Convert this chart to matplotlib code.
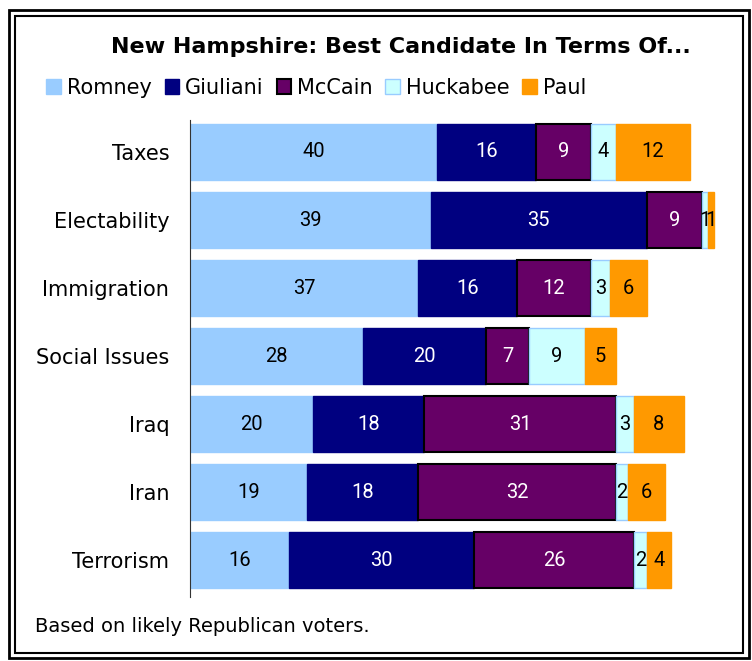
import matplotlib

matplotlib.use("Agg")
import matplotlib.pyplot as plt
from matplotlib.patches import Rectangle

categorias = ["Taxes", "Electability", "Immigration", "Social Issues", "Iraq", "Iran", "Terrorism"]
candidatos = ["Romney", "Giuliani", "McCain", "Huckabee", "Paul"]
romney = [40, 39, 37, 28, 20, 19, 16]
giuliani = [16, 35, 16, 20, 18, 18, 30]
mccain = [9, 9, 12, 7, 31, 32, 26]
huckabee = [4, 1, 3, 9, 3, 2, 2]
paul = [12, 1, 6, 5, 8, 6, 4]

series = [romney, giuliani, mccain, huckabee, paul]
cores = ["#99CCFF", "#000080", "#660066", "#CCFFFF", "#FF9900"]
bordas = ["#99CCFF", "#000080", "#000000", "#99CCFF", "#FF9900"]
cor_texto = ["black", "white", "white", "black", "black"]

plt.rcParams["font.family"] = ["DejaVu Sans"]

W, H = 752, 661
fig = plt.figure(figsize=(W / 100, H / 100), dpi=100)

# moldura dupla
fig.patches.append(Rectangle((9 / W, 3 / H), 740 / W, 648 / H, transform=fig.transFigure,
                             fill=False, lw=2, ec="black"))
fig.patches.append(Rectangle((15 / W, 8 / H), 728 / W, 637 / H, transform=fig.transFigure,
                             fill=False, lw=1.5, ec="black"))

x0, y_top, y_bot = 190, 120, 597
escala = 6.17
xmax = 88
ax = fig.add_axes([x0 / W, 1 - y_bot / H, xmax * escala / W, (y_bot - y_top) / H])

ypos = list(range(len(categorias)))
esquerda = [0] * len(categorias)
for i, vals in enumerate(series):
    lw = 1.5 if i == 2 else 1.0
    ax.barh(ypos, vals, left=esquerda, height=0.82, color=cores[i], edgecolor=bordas[i],
            linewidth=lw, label=candidatos[i])
    for j, v in enumerate(vals):
        ax.text(esquerda[j] + v / 2, ypos[j], str(v), ha="center", va="center",
                color=cor_texto[i], fontsize=14.5, family=["Roboto", "DejaVu Sans"])
    esquerda = [a + b for a, b in zip(esquerda, vals)]

ax.set_xlim(0, xmax)
ax.set_ylim(6.54, -0.47)
ax.set_yticks(ypos)
ax.set_yticklabels(categorias, fontsize=15)
ax.tick_params(axis="y", length=0, pad=15)
ax.set_xticks([])
for lado in ["top", "right", "bottom"]:
    ax.spines[lado].set_visible(False)
ax.spines["left"].set_color("#333333")

fig.text(401 / W, 1 - 47 / H, "New Hampshire: Best Candidate In Terms Of...", ha="center",
         va="center", fontsize=16, fontweight="bold")

handles, labels = ax.get_legend_handles_labels()
fig.legend(handles, labels, loc="center left", bbox_to_anchor=(38 / W, 1 - 88 / H), ncol=5,
           frameon=False, fontsize=15, handlelength=0.7, handleheight=0.7, handletextpad=0.3,
           columnspacing=0.6, borderaxespad=0)

fig.text(35 / W, 1 - 627 / H, "Based on likely Republican voters.", ha="left", va="center",
         fontsize=14)

fig.savefig("out.png", dpi=100)
